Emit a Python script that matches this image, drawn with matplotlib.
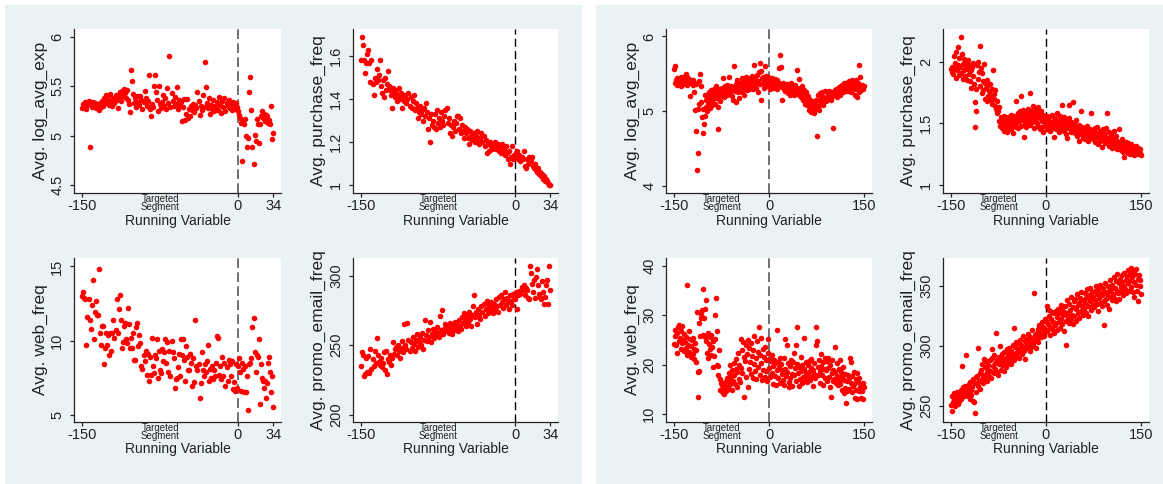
import matplotlib.pyplot as plt
from matplotlib.patches import Rectangle
import numpy as np

# running variable: left block stops at 34, right block is symmetric
x_left = np.arange(-150, 35)
x_right = np.arange(-150, 151)

# ---- left block ----
left_log_avg_exp = [
    5.28, 5.32, 5.30, 5.34, 5.27, 5.31, 5.35, 4.89, 5.33, 5.29,
    5.34, 5.31, 5.33, 5.28, 5.32, 5.30, 5.26, 5.33, 5.29, 5.35,
    5.30, 5.38, 5.33, 5.41, 5.36, 5.40, 5.31, 5.42, 5.35, 5.30,
    5.38, 5.33, 5.41, 5.36, 5.28, 5.39, 5.44, 5.35, 5.45, 5.40,
    5.47, 5.43, 5.38, 5.46, 5.36, 5.32, 5.24, 5.67, 5.55, 5.42,
    5.33, 5.38, 5.29, 5.40, 5.34, 5.31, 5.40, 5.36, 5.27, 5.34,
    5.45, 5.38, 5.30, 5.35, 5.61, 5.27, 5.20, 5.32, 5.29, 5.50,
    5.61, 5.44, 5.36, 5.25, 5.50, 5.32, 5.28, 5.34, 5.41, 5.30,
    5.38, 5.27, 5.48, 5.33, 5.81, 5.29, 5.43, 5.35, 5.30, 5.39,
    5.32, 5.49, 5.27, 5.36, 5.31, 5.34, 5.15, 5.29, 5.37, 5.16,
    5.22, 5.37, 5.18, 5.27, 5.20, 5.30, 5.26, 5.32, 5.24, 5.31,
    5.28, 5.44, 5.35, 5.21, 5.30, 5.26, 5.41, 5.29, 5.75, 5.49,
    5.33, 5.28, 5.38, 5.22, 5.31, 5.27, 5.36, 5.25, 5.30, 5.28,
    5.34, 5.26, 5.39, 5.31, 5.23, 5.35, 5.29, 5.38, 5.25, 5.33,
    5.30, 5.36, 5.28, 5.32, 5.26, 5.34, 5.30, 5.27, 5.33, 5.29,
    5.25, 5.21, 5.18, 5.13, 4.74, 5.16, 5.12, 5.17, 5.00, 4.89,
    4.98, 5.44, 5.59, 5.26, 4.89, 4.71, 5.01, 4.95, 5.17, 5.12,
    4.93, 5.12, 5.20, 5.25, 5.18, 5.22, 5.15, 5.21, 5.20, 5.13,
    5.16, 5.12, 5.30, 4.97, 5.03]

left_purchase_freq = [
    1.58, 1.69, 1.65, 1.58, 1.52, 1.57, 1.61, 1.63, 1.57, 1.48,
    1.58, 1.47, 1.42, 1.50, 1.48, 1.54, 1.49, 1.51, 1.58, 1.46,
    1.43, 1.49, 1.41, 1.50, 1.44, 1.47, 1.53, 1.46, 1.44, 1.42,
    1.36, 1.45, 1.43, 1.41, 1.44, 1.39, 1.42, 1.45, 1.40, 1.43,
    1.36, 1.41, 1.39, 1.42, 1.38, 1.40, 1.43, 1.37, 1.41, 1.36,
    1.39, 1.42, 1.35, 1.38, 1.36, 1.31, 1.34, 1.37, 1.33, 1.35,
    1.30, 1.36, 1.32, 1.38, 1.34, 1.26, 1.31, 1.20, 1.33, 1.28,
    1.30, 1.27, 1.33, 1.26, 1.35, 1.29, 1.31, 1.27, 1.34, 1.30,
    1.28, 1.32, 1.35, 1.36, 1.29, 1.31, 1.24, 1.28, 1.23, 1.27,
    1.30, 1.25, 1.29, 1.32, 1.32, 1.26, 1.31, 1.24, 1.28, 1.25,
    1.22, 1.27, 1.24, 1.26, 1.22, 1.19, 1.25, 1.23, 1.21, 1.24,
    1.22, 1.20, 1.23, 1.25, 1.21, 1.19, 1.22, 1.24, 1.20, 1.23,
    1.18, 1.21, 1.15, 1.19, 1.16, 1.20, 1.18, 1.17, 1.19, 1.18,
    1.20, 1.17, 1.18, 1.19, 1.16, 1.18, 1.15, 1.19, 1.16, 1.17,
    1.14, 1.18, 1.15, 1.12, 1.16, 1.10, 1.13, 1.18, 1.12, 1.14,
    1.13, 1.15, 1.16, 1.12, 1.14, 1.11, 1.13, 1.12, 1.16, 1.09,
    1.08, 1.12, 1.10, 1.13, 1.12, 1.11, 1.13, 1.09, 1.08, 1.10,
    1.07, 1.06, 1.08, 1.05, 1.06, 1.04, 1.05, 1.03, 1.04, 1.02,
    1.03, 1.02, 1.01, 1.00, 1.00]

left_web_freq = [
    13.0, 13.3, 12.9, 12.8, 9.7, 11.6, 12.8, 11.4, 10.8, 12.4,
    14.1, 10.1, 11.9, 12.7, 11.7, 11.7, 14.8, 10.5, 9.7, 11.0,
    11.0, 8.4, 9.5, 10.5, 9.7, 10.4, 9.0, 10.5, 9.3, 10.5,
    11.4, 10.2, 10.7, 12.8, 10.5, 12.1, 13.1, 11.4, 9.5, 9.9,
    11.0, 11.2, 10.1, 9.8, 12.2, 11.1, 9.5, 10.2, 9.5, 10.5,
    8.7, 8.7, 10.9, 11.2, 9.6, 10.4, 9.8, 8.3, 8.1, 9.0,
    8.6, 9.3, 7.7, 9.1, 7.3, 8.9, 7.7, 10.2, 8.3, 7.8,
    9.0, 8.8, 10.1, 7.5, 9.3, 8.0, 7.8, 9.4, 8.6, 9.2,
    10.1, 8.5, 9.9, 7.9, 9.3, 7.6, 10.0, 9.2, 8.8, 6.8,
    7.4, 7.5, 8.2, 9.1, 7.6, 10.1, 9.0, 10.1, 8.7, 7.3,
    9.6, 8.9, 8.0, 8.0, 9.1, 8.5, 6.9, 8.8, 7.2, 11.4,
    8.3, 8.0, 8.4, 6.1, 7.1, 9.2, 8.0, 7.6, 8.4, 7.9,
    8.6, 9.7, 7.3, 8.1, 7.5, 8.3, 7.4, 8.0, 7.6, 8.5,
    10.3, 10.2, 7.7, 8.3, 7.4, 8.9, 7.6, 8.5, 6.9, 8.2,
    7.3, 8.7, 8.4, 7.6, 8.6, 6.7, 7.2, 6.6, 8.4, 6.8,
    8.3, 8.8, 7.9, 6.6, 8.5, 8.1, 6.5, 8.3, 6.5, 7.6,
    5.3, 8.4, 8.5, 8.8, 10.9, 11.5, 9.2, 7.9, 9.0, 8.9,
    10.1, 5.7, 8.4, 7.5, 7.3, 6.8, 7.3, 6.1, 7.1, 8.5,
    8.9, 7.9, 6.5, 7.6, 5.5]

left_promo_email_freq = [
    235, 245, 243, 228, 229, 241, 231, 242, 230, 247,
    233, 240, 235, 246, 237, 255, 243, 238, 236, 241,
    234, 237, 245, 232, 246, 229, 240, 238, 243, 236,
    241, 252, 244, 247, 249, 243, 250, 246, 241, 248,
    253, 245, 265, 250, 247, 266, 254, 246, 252, 248,
    256, 251, 246, 254, 258, 249, 252, 256, 250, 259,
    247, 254, 268, 257, 253, 261, 256, 267, 252, 258,
    262, 255, 260, 257, 263, 259, 256, 271, 261, 275,
    258, 262, 265, 260, 263, 259, 266, 262, 258, 264,
    261, 267, 263, 265, 260, 268, 264, 262, 270, 266,
    273, 268, 264, 271, 267, 274, 269, 264, 272, 278,
    286, 270, 274, 265, 276, 272, 269, 278, 274, 280,
    271, 276, 282, 273, 279, 275, 281, 277, 273, 280,
    276, 283, 278, 274, 285, 279, 286, 281, 277, 283,
    288, 279, 284, 281, 276, 286, 282, 279, 287, 284,
    283, 288, 276, 286, 289, 287, 292, 290, 293, 286,
    291, 290, 284, 283, 307, 302, 294, 288, 297, 284,
    299, 305, 293, 287, 285, 283, 296, 288, 280, 285,
    293, 297, 280, 307, 290]

# ---- right block ----
right_log_avg_exp = [
    5.57, 5.60, 5.38, 5.41, 5.35, 5.44, 5.39, 5.36, 5.42, 5.40, 5.34, 5.45, 5.38, 5.41, 5.36,
    5.43, 5.39, 5.47, 5.50, 5.37, 5.41, 5.35, 5.44, 5.38, 5.40, 5.20, 5.42, 5.37, 5.39, 5.35,
    5.41, 5.38, 5.26, 5.02, 5.36, 4.73, 4.21, 5.03, 4.44, 5.40, 5.10, 5.49, 5.34, 5.12, 4.92,
    4.71, 5.03, 4.83, 5.21, 4.93, 5.06, 5.15, 5.00, 5.18, 5.09, 5.25, 5.04, 5.20, 5.12, 5.28,
    5.08, 5.22, 5.16, 5.30, 5.10, 5.24, 5.33, 5.18, 5.27, 5.05, 4.76, 5.20, 5.29, 5.14, 5.25,
    5.31, 5.22, 5.44, 5.28, 5.19, 5.33, 5.24, 5.30, 5.21, 5.35, 5.27, 5.45, 5.23, 5.31, 5.26,
    5.34, 5.20, 5.29, 5.15, 5.32, 5.60, 5.27, 5.36, 5.12, 5.30, 5.41, 5.25, 5.33, 5.18, 5.38,
    5.29, 5.35, 5.44, 5.26, 5.31, 5.40, 5.22, 5.37, 5.33, 5.46, 5.28, 5.39, 5.42, 5.30, 5.36,
    5.44, 5.33, 5.38, 5.47, 5.29, 5.41, 5.62, 5.35, 5.43, 5.31, 5.37, 5.48, 5.26, 5.40, 5.52,
    5.65, 5.36, 5.15, 5.53, 5.44, 5.38, 5.46, 5.31, 5.42, 5.60, 5.35, 5.47, 5.40, 5.33, 5.45,
    5.38, 5.42, 5.29, 5.36, 5.44, 5.40, 5.31, 5.39, 5.35, 5.43, 5.33, 5.37, 5.30, 5.41, 5.34,
    5.39, 5.58, 5.75, 5.36, 5.59, 5.32, 5.15, 5.38, 5.30, 5.35, 5.27, 5.33, 5.29, 5.36, 5.31,
    5.24, 5.34, 5.28, 5.32, 5.22, 5.37, 5.30, 5.26, 5.33, 5.29, 5.21, 5.35, 5.27, 5.31, 5.25,
    5.55, 5.30, 5.43, 5.22, 5.31, 5.26, 5.19, 5.33, 5.24, 5.15, 5.28, 5.21, 5.10, 5.25, 5.17,
    5.08, 5.20, 5.13, 5.02, 5.16, 5.06, 5.11, 4.98, 5.14, 5.04, 5.00, 5.12, 4.97, 5.09, 5.03,
    5.15, 4.67, 5.07, 5.21, 5.02, 5.13, 5.24, 5.10, 5.17, 5.26, 5.08, 5.19, 5.14, 5.27, 5.16,
    5.13, 5.25, 5.18, 5.22, 5.16, 5.27, 5.19, 5.23, 5.15, 5.26, 5.20, 5.24, 4.77, 5.21, 5.28,
    5.22, 5.30, 5.25, 5.19, 5.29, 5.24, 5.32, 5.27, 5.21, 5.33, 5.28, 5.35, 5.26, 5.31, 5.37,
    5.29, 5.34, 5.38, 5.27, 5.32, 5.36, 5.30, 5.40, 5.33, 5.25, 5.38, 5.31, 5.42, 5.35, 5.29,
    5.36, 5.22, 5.33, 5.41, 5.19, 5.30, 5.37, 5.26, 5.62, 5.45, 5.32, 5.28, 5.35, 5.30, 5.33,
    5.34]

right_purchase_freq = [
    1.94, 1.92, 1.96, 1.90, 2.05, 1.95, 1.99, 1.87, 2.08, 1.93, 2.12, 1.97, 1.89, 2.03, 1.96,
    2.20, 1.91, 2.06, 1.86, 1.98, 1.93, 2.02, 1.88, 1.95, 1.99, 1.85, 1.94, 2.01, 1.90, 1.97,
    1.84, 1.93, 1.79, 1.96, 1.88, 1.99, 1.82, 1.47, 1.67, 1.60, 1.78, 1.97, 2.00, 1.86, 1.92,
    2.13, 1.80, 1.95, 1.75, 1.91, 1.84, 1.77, 1.98, 1.70, 1.83, 1.79, 1.68, 1.85, 1.72, 1.81,
    1.76, 1.69, 1.82, 1.73, 1.78, 1.66, 1.93, 1.74, 1.70, 1.64, 1.77, 1.62, 1.68, 1.58, 1.60,
    1.52, 1.63, 1.48, 1.55, 1.50, 1.46, 1.53, 1.49, 1.56, 1.44, 1.51, 1.47, 1.54, 1.43, 1.50,
    1.55, 1.46, 1.52, 1.48, 1.57, 1.45, 1.53, 1.50, 1.42, 1.56, 1.49, 1.54, 1.47, 1.68, 1.51,
    1.58, 1.46, 1.55, 1.52, 1.60, 1.72, 1.48, 1.57, 1.53, 1.61, 1.39, 1.55, 1.50, 1.59, 1.47,
    1.56, 1.62, 1.52, 1.58, 1.49, 1.75, 1.55, 1.60, 1.51, 1.64, 1.57, 1.46, 1.59, 1.53, 1.62,
    1.56, 1.50, 1.63, 1.48, 1.58, 1.54, 1.45, 1.60, 1.52, 1.47, 1.57, 1.43, 1.55, 1.50, 1.53,
    1.48, 1.56, 1.45, 1.52, 1.49, 1.55, 1.44, 1.51, 1.47, 1.57, 1.50, 1.46, 1.53, 1.39, 1.49,
    1.54, 1.45, 1.51, 1.58, 1.47, 1.52, 1.43, 1.56, 1.49, 1.53, 1.46, 1.65, 1.50, 1.44, 1.55,
    1.48, 1.52, 1.41, 1.38, 1.50, 1.46, 1.54, 1.65, 1.47, 1.43, 1.51, 1.45, 1.49, 1.67, 1.44,
    1.50, 1.42, 1.47, 1.53, 1.40, 1.46, 1.44, 1.49, 1.36, 1.45, 1.60, 1.41, 1.47, 1.38, 1.44,
    1.42, 1.46, 1.37, 1.43, 1.40, 1.48, 1.36, 1.44, 1.41, 1.39, 1.45, 1.38, 1.58, 1.42, 1.37,
    1.44, 1.40, 1.46, 1.35, 1.42, 1.39, 1.47, 1.33, 1.41, 1.38, 1.44, 1.36, 1.43, 1.40, 1.31,
    1.45, 1.37, 1.42, 1.34, 1.40, 1.46, 1.58, 1.38, 1.35, 1.43, 1.32, 1.39, 1.36, 1.41, 1.30,
    1.38, 1.34, 1.44, 1.31, 1.37, 1.33, 1.40, 1.29, 1.36, 1.32, 1.45, 1.30, 1.35, 1.28, 1.34,
    1.31, 1.37, 1.27, 1.33, 1.23, 1.30, 1.35, 1.28, 1.32, 1.26, 1.34, 1.29, 1.31, 1.25, 1.33,
    1.28, 1.32, 1.27, 1.30, 1.24, 1.31, 1.29, 1.26, 1.32, 1.28, 1.25, 1.30, 1.27, 1.29, 1.26,
    1.24]

right_web_freq = [
    24.1, 25.8, 27.0, 23.9, 26.5, 22.4, 27.6, 24.8, 28.1, 25.5, 23.2, 26.9, 24.3, 27.9, 25.0,
    22.8, 26.2, 24.6, 23.4, 25.7, 21.9, 36.2, 24.0, 26.8, 22.6, 25.3, 23.7, 21.5, 24.9, 22.2,
    25.4, 23.1, 21.2, 24.4, 20.6, 22.9, 30.7, 18.5, 13.4, 18.8, 28.5, 25.9, 29.4, 30.2, 31.1,
    35.3, 26.0, 29.5, 25.7, 31.3, 33.0, 24.8, 22.3, 26.4, 21.4, 24.1, 23.2, 25.6, 21.9, 26.1,
    23.5, 19.6, 24.7, 21.8, 25.2, 30.1, 33.4, 20.0, 26.9, 19.8, 18.0, 23.0, 17.2, 15.0, 16.4,
    14.8, 16.0, 14.3, 15.4, 14.1, 15.8, 16.6, 14.7, 17.3, 15.6, 16.9, 15.2, 18.4, 16.2, 19.9,
    17.5, 14.9, 18.9, 16.7, 20.3, 17.9, 16.1, 19.2, 21.1, 15.5, 18.6, 22.4, 17.1, 20.0, 16.5,
    25.2, 19.4, 22.9, 18.3, 24.5, 21.6, 13.5, 20.7, 24.0, 17.6, 22.1, 15.6, 25.0, 19.1, 23.4,
    20.5, 24.3, 18.1, 21.8, 17.4, 23.0, 20.2, 25.8, 18.7, 21.3, 17.2, 24.7, 19.6, 22.6, 27.6,
    21.9, 18.0, 25.4, 20.4, 16.9, 23.1, 19.0, 21.5, 17.5, 23.6, 18.8, 20.9, 16.8, 22.3, 25.3,
    19.4, 21.2, 17.6, 20.8, 18.4, 22.0, 16.2, 19.8, 21.0, 17.8, 20.3, 16.0, 27.0, 18.9, 20.6,
    17.3, 19.5, 21.4, 16.4, 20.1, 18.2, 19.0, 17.0, 21.3, 15.9, 19.2, 25.2, 17.7, 24.0, 18.5,
    20.4, 16.5, 15.5, 19.7, 17.4, 21.0, 18.1, 15.8, 20.6, 22.4, 17.9, 19.3, 16.8, 24.0, 27.7,
    20.2, 18.3, 15.7, 19.6, 17.1, 21.5, 18.8, 16.3, 20.0, 17.6, 25.4, 19.1, 17.0, 20.5, 18.4,
    16.6, 19.9, 17.8, 20.7, 18.6, 16.9, 19.3, 21.2, 17.5, 15.8, 19.0, 18.2, 20.4, 17.3, 24.0,
    27.6, 24.8, 19.5, 17.9, 21.0, 18.7, 16.4, 19.8, 22.1, 18.0, 20.5, 16.0, 19.2, 21.3, 17.4,
    18.9, 20.8, 16.7, 19.4, 21.4, 17.6, 15.5, 20.0, 13.5, 18.3, 21.0, 16.8, 19.0, 17.2, 23.5,
    18.5, 16.3, 20.3, 17.8, 15.9, 19.1, 17.0, 21.0, 16.2, 18.6, 15.0, 17.7, 19.6, 14.3, 16.9,
    18.2, 15.4, 12.3, 16.7, 14.6, 18.0, 17.3, 15.1, 21.3, 16.4, 20.5, 14.4, 17.8, 15.8, 18.5,
    16.2, 13.3, 17.1, 15.0, 18.4, 13.0, 16.6, 14.8, 17.3, 15.5, 13.2, 16.0, 14.6, 16.4, 13.1,
    15.6]

right_promo_email_freq = [
    251, 246, 258, 253, 261, 256, 250, 259, 255, 262, 257, 252, 260, 254, 259,
    263, 256, 283, 261, 266, 258, 264, 267, 260, 292, 265, 258, 262, 268, 256,
    270, 263, 259, 266, 254, 272, 253, 244, 269, 274, 262, 275, 267, 298, 271,
    277, 264, 280, 272, 285, 276, 269, 289, 282, 274, 287, 278, 271, 284, 280,
    275, 288, 279, 273, 290, 297, 283, 277, 292, 286, 281, 311, 278, 288, 276,
    291, 285, 300, 287, 280, 293, 284, 289, 279, 295, 286, 290, 282, 297, 288,
    293, 286, 298, 290, 285, 296, 289, 301, 292, 315, 288, 299, 294, 303, 291,
    297, 302, 295, 290, 305, 298, 301, 293, 308, 299, 296, 304, 289, 303, 300,
    306, 298, 310, 302, 296, 307, 303, 299, 313, 305, 301, 344, 309, 304, 298,
    311, 306, 314, 303, 317, 309, 312, 307, 320, 313, 310, 316, 308, 322, 314,
    321, 333, 312, 318, 325, 330, 309, 316, 322, 328, 314, 320, 311, 327, 319,
    317, 329, 324, 313, 331, 320, 327, 315, 334, 322, 318, 330, 326, 312, 328,
    333, 321, 301, 327, 338, 324, 319, 335, 330, 322, 341, 326, 332, 318, 337,
    325, 339, 331, 321, 343, 334, 327, 336, 323, 340, 329, 345, 333, 326, 338,
    331, 344, 336, 327, 340, 347, 333, 325, 342, 337, 348, 330, 339, 345, 334,
    341, 332, 346, 338, 350, 335, 343, 329, 347, 340, 336, 351, 344, 333, 342,
    348, 337, 317, 345, 352, 339, 343, 334, 350, 346, 331, 355, 341, 347, 338,
    351, 343, 357, 340, 348, 354, 337, 346, 360, 344, 352, 339, 356, 349, 345,
    353, 359, 342, 350, 361, 347, 355, 344, 358, 352, 363, 346, 354, 360, 365,
    349, 357, 362, 345, 353, 341, 360, 351, 364, 346, 356, 337, 359, 350, 355,
    343]

# tick labels
xticks_left = [-150, 0, 34]
xticks_right = [-150, 0, 150]
segment_label = "Targeted\nSegment"
segment_pos = -75

W, H = 1163, 484
plt.rcParams['font.family'] = ['Liberation Sans', 'DejaVu Sans']
fig = plt.figure(figsize=(W / 100, H / 100), dpi=100, facecolor='white')

BG = '#EAF2F3'
INK = '#222222'

# two light panels behind the 2x2 blocks (below the axes)
for x0, x1 in [(5, 582), (596, 1163)]:
    fig.patches.append(Rectangle((x0 / W, 0), (x1 - x0) / W, 1 - 5 / H,
                                 transform=fig.transFigure, facecolor=BG,
                                 edgecolor='none', zorder=-5))


def panel(box, x, y, ylabel, ylim, yticks, xlim, xticks, grey_line):
    """Draw one scatter with the cutoff line at 0."""
    l, t, r, b = box
    ax = fig.add_axes([l / W, 1 - b / H, (r - l) / W, (b - t) / H])
    ax.set_facecolor('white')
    ax.scatter(x, y, s=16, c='#FF0000', linewidths=0, zorder=3)

    if grey_line:
        ax.axvline(0, color='#707070', lw=1.4, ls=(0, (5.0, 2.2)), zorder=2)
    else:
        ax.axvline(0, color='black', lw=1.0, ls=(0, (5.8, 3.0)), zorder=2)

    ax.set_xlim(xlim)
    ax.set_ylim(ylim)
    ax.spines[['top', 'right']].set_visible(False)
    for s in ['left', 'bottom']:
        ax.spines[s].set_color(INK)
        ax.spines[s].set_linewidth(0.9)

    ax.set_xticks(xticks, [str(v) for v in xticks])
    ax.set_xticks([segment_pos], [segment_label], minor=True)
    ax.set_yticks(yticks, [f'{v:g}' for v in yticks], rotation=90, va='center')

    ax.tick_params(which='major', direction='out', length=3, width=0.9,
                   color=INK, labelcolor=INK, labelsize=10.5)
    ax.tick_params(axis='x', which='major', pad=1.5)
    ax.tick_params(axis='y', which='major', pad=4)
    ax.tick_params(axis='x', which='minor', length=0, labelsize=7,
                   labelcolor=INK, pad=0.5)
    for lab in ax.get_xticklabels(minor=True):
        lab.set_linespacing(0.85)

    ax.set_ylabel(ylabel, fontsize=12.5, color=INK, labelpad=2)
    ax.set_xlabel('Running Variable', fontsize=10, color=INK)
    ax.xaxis.set_label_coords(0.5, -0.125)
    ax.xaxis.label.set_va('top')
    return ax


xl_left = (-158, 41.5)
xl_right = (-163, 163)

panel((74, 29, 281, 193), x_left, left_log_avg_exp, 'Avg. log_avg_exp',
      (4.42, 6.08), [4.5, 5, 5.5, 6], xl_left, xticks_left, True)
panel((353, 29, 558, 193), x_left, left_purchase_freq, 'Avg. purchase_freq',
      (0.963, 1.726), [1, 1.2, 1.4, 1.6], xl_left, xticks_left, False)
panel((74, 258, 281, 422), x_left, left_web_freq, 'Avg. web_freq',
      (4.5, 15.57), [5, 10, 15], xl_left, xticks_left, True)
panel((353, 258, 558, 422), x_left, left_promo_email_freq, 'Avg. promo_email_freq',
      (194.7, 312.8), [200, 250, 300], xl_left, xticks_left, False)

panel((666, 29, 872, 193), x_right, right_log_avg_exp, 'Avg. log_avg_exp',
      (3.90, 6.10), [4, 5, 6], xl_right, xticks_right, True)
panel((943, 29, 1149, 193), x_right, right_purchase_freq, 'Avg. purchase_freq',
      (0.935, 2.265), [1, 1.5, 2], xl_right, xticks_right, False)
panel((666, 258, 872, 422), x_right, right_web_freq, 'Avg. web_freq',
      (8.44, 41.56), [10, 20, 30, 40], xl_right, xticks_right, True)
panel((943, 258, 1149, 422), x_right, right_promo_email_freq, 'Avg. promo_email_freq',
      (236.6, 373.2), [250, 300, 350], xl_right, xticks_right, False)

fig.savefig('out.png', dpi=100, facecolor='white')
